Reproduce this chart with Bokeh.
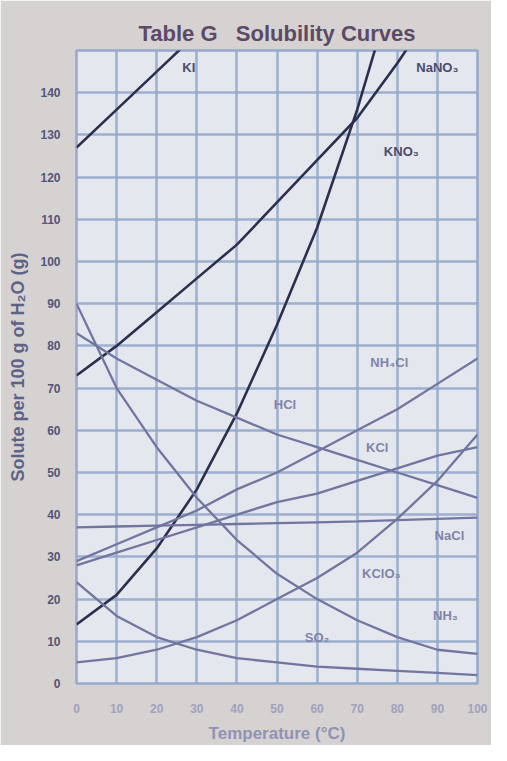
from bokeh.plotting import figure
from bokeh.models import FixedTicker, Range1d, Label
from bokeh.embed import file_html
from bokeh.resources import INLINE

# ---- data ----
temps = [0, 10, 20, 30, 40, 50, 60, 70, 80, 90, 100]
ki     = [127, 136, 145, 154, 162, 170, 177, 184, 191, 198, 205]
nano3  = [73, 80, 88, 96, 104, 114, 124, 134, 147, 161, 176]
kno3   = [14, 21, 32, 46, 64, 85, 108, 136, 168, 202, 245]
nh4cl  = [29, 33, 37, 41, 46, 50, 55, 60, 65, 71, 77]
hcl    = [83, 77, 72, 67, 63, 59, 56, 53, 50, 47, 44]
kcl    = [28, 31, 34, 37, 40, 43, 45, 48, 51, 54, 56]
nacl   = [37, 37.2, 37.4, 37.6, 37.8, 38, 38.2, 38.4, 38.7, 39, 39.3]
kclo3  = [5, 6, 8, 11, 15, 20, 25, 31, 39, 48, 59]
nh3    = [90, 70, 56, 44, 34, 26, 20, 15, 11, 8, 7]
so2    = [24, 16, 11, 8, 6, 5, 4, 3.5, 3, 2.5, 2]

names = ["KI", "NaNO\u2083", "KNO\u2083", "NH\u2084Cl", "HCl", "KCl", "NaCl",
         "KClO\u2083", "NH\u2083", "SO\u2082"]
series = [ki, nano3, kno3, nh4cl, hcl, kcl, nacl, kclo3, nh3, so2]
label_x = [28, 90, 81, 78, 52, 75, 93, 76, 92, 60]
label_y = [146, 146, 126, 76, 66, 56, 35, 26, 16, 11]

y_ticks = [0, 10, 20, 30, 40, 50, 60, 70, 80, 90, 100, 110, 120, 130, 140]
x_ticks = [0, 10, 20, 30, 40, 50, 60, 70, 80, 90, 100]

dark = "#2c2f4e"
light = "#7275a0"
colors = [dark, dark, dark] + [light] * 7

p = figure(width=491, height=745, output_backend="svg", toolbar_location=None,
           x_range=Range1d(0, 100), y_range=Range1d(0, 150),
           min_border_left=76, min_border_right=14,
           min_border_top=50, min_border_bottom=55,
           background_fill_color="#e4e7ed", border_fill_color="#d6d2d1",
           outline_line_color="#95aacb", outline_line_width=2.5)

p.title.text = "Table G\u00a0\u00a0\u00a0Solubility Curves"
p.title.align = "center"
p.title.text_font = "Liberation Sans"
p.title.text_font_size = "22px"
p.title.text_color = "#5b4a66"
p.title.text_font_style = "bold"
p.title.offset = -9
p.title.standoff = 10

p.xaxis.ticker = FixedTicker(ticks=x_ticks)
p.yaxis.ticker = FixedTicker(ticks=y_ticks + [150])
p.yaxis.major_label_overrides = {150: ""}
for ax in (p.xaxis[0], p.yaxis[0]):
    ax.axis_line_color = None
    ax.major_tick_line_color = None
    ax.minor_tick_line_color = None
    ax.major_label_text_font = "Liberation Sans"
    ax.major_label_text_font_style = "bold"
    ax.major_label_text_font_size = "12px"
    ax.axis_label_text_font = "Liberation Sans"
    ax.axis_label_text_font_style = "bold"
    ax.axis_label_text_font_size = "17px"
p.yaxis.axis_label_text_font_size = "18px"
p.yaxis.major_label_text_color = "#52567a"
p.xaxis.major_label_text_color = "#a1a0bd"
p.yaxis.major_label_standoff = 10
p.xaxis.major_label_standoff = 14
p.yaxis.axis_label = "Solute per 100 g of H\u2082O (g)"
p.yaxis.axis_label_text_color = "#5d6388"
p.yaxis.axis_label_standoff = 9
p.xaxis.axis_label = "Temperature (\u00b0C)"
p.xaxis.axis_label_text_color = "#9092b4"
p.xaxis.axis_label_standoff = 8

p.grid.grid_line_color = "#95aacb"
p.grid.grid_line_width = 2.5
p.grid.grid_line_alpha = 0.9

for vals, c in zip(series, colors):
    p.line(temps, vals, line_color=c, line_width=2.6 if c == dark else 2.3)

for n, lx, ly, c in zip(names, label_x, label_y, colors):
    p.add_layout(Label(x=lx, y=ly, text=n, text_align="center", text_baseline="middle",
                       text_font="Liberation Sans", text_font_style="bold",
                       text_font_size="13px",
                       text_color="#4a4d6e" if c == dark else "#8084a8"))

open("out.html", "w").write(file_html(p, INLINE))
